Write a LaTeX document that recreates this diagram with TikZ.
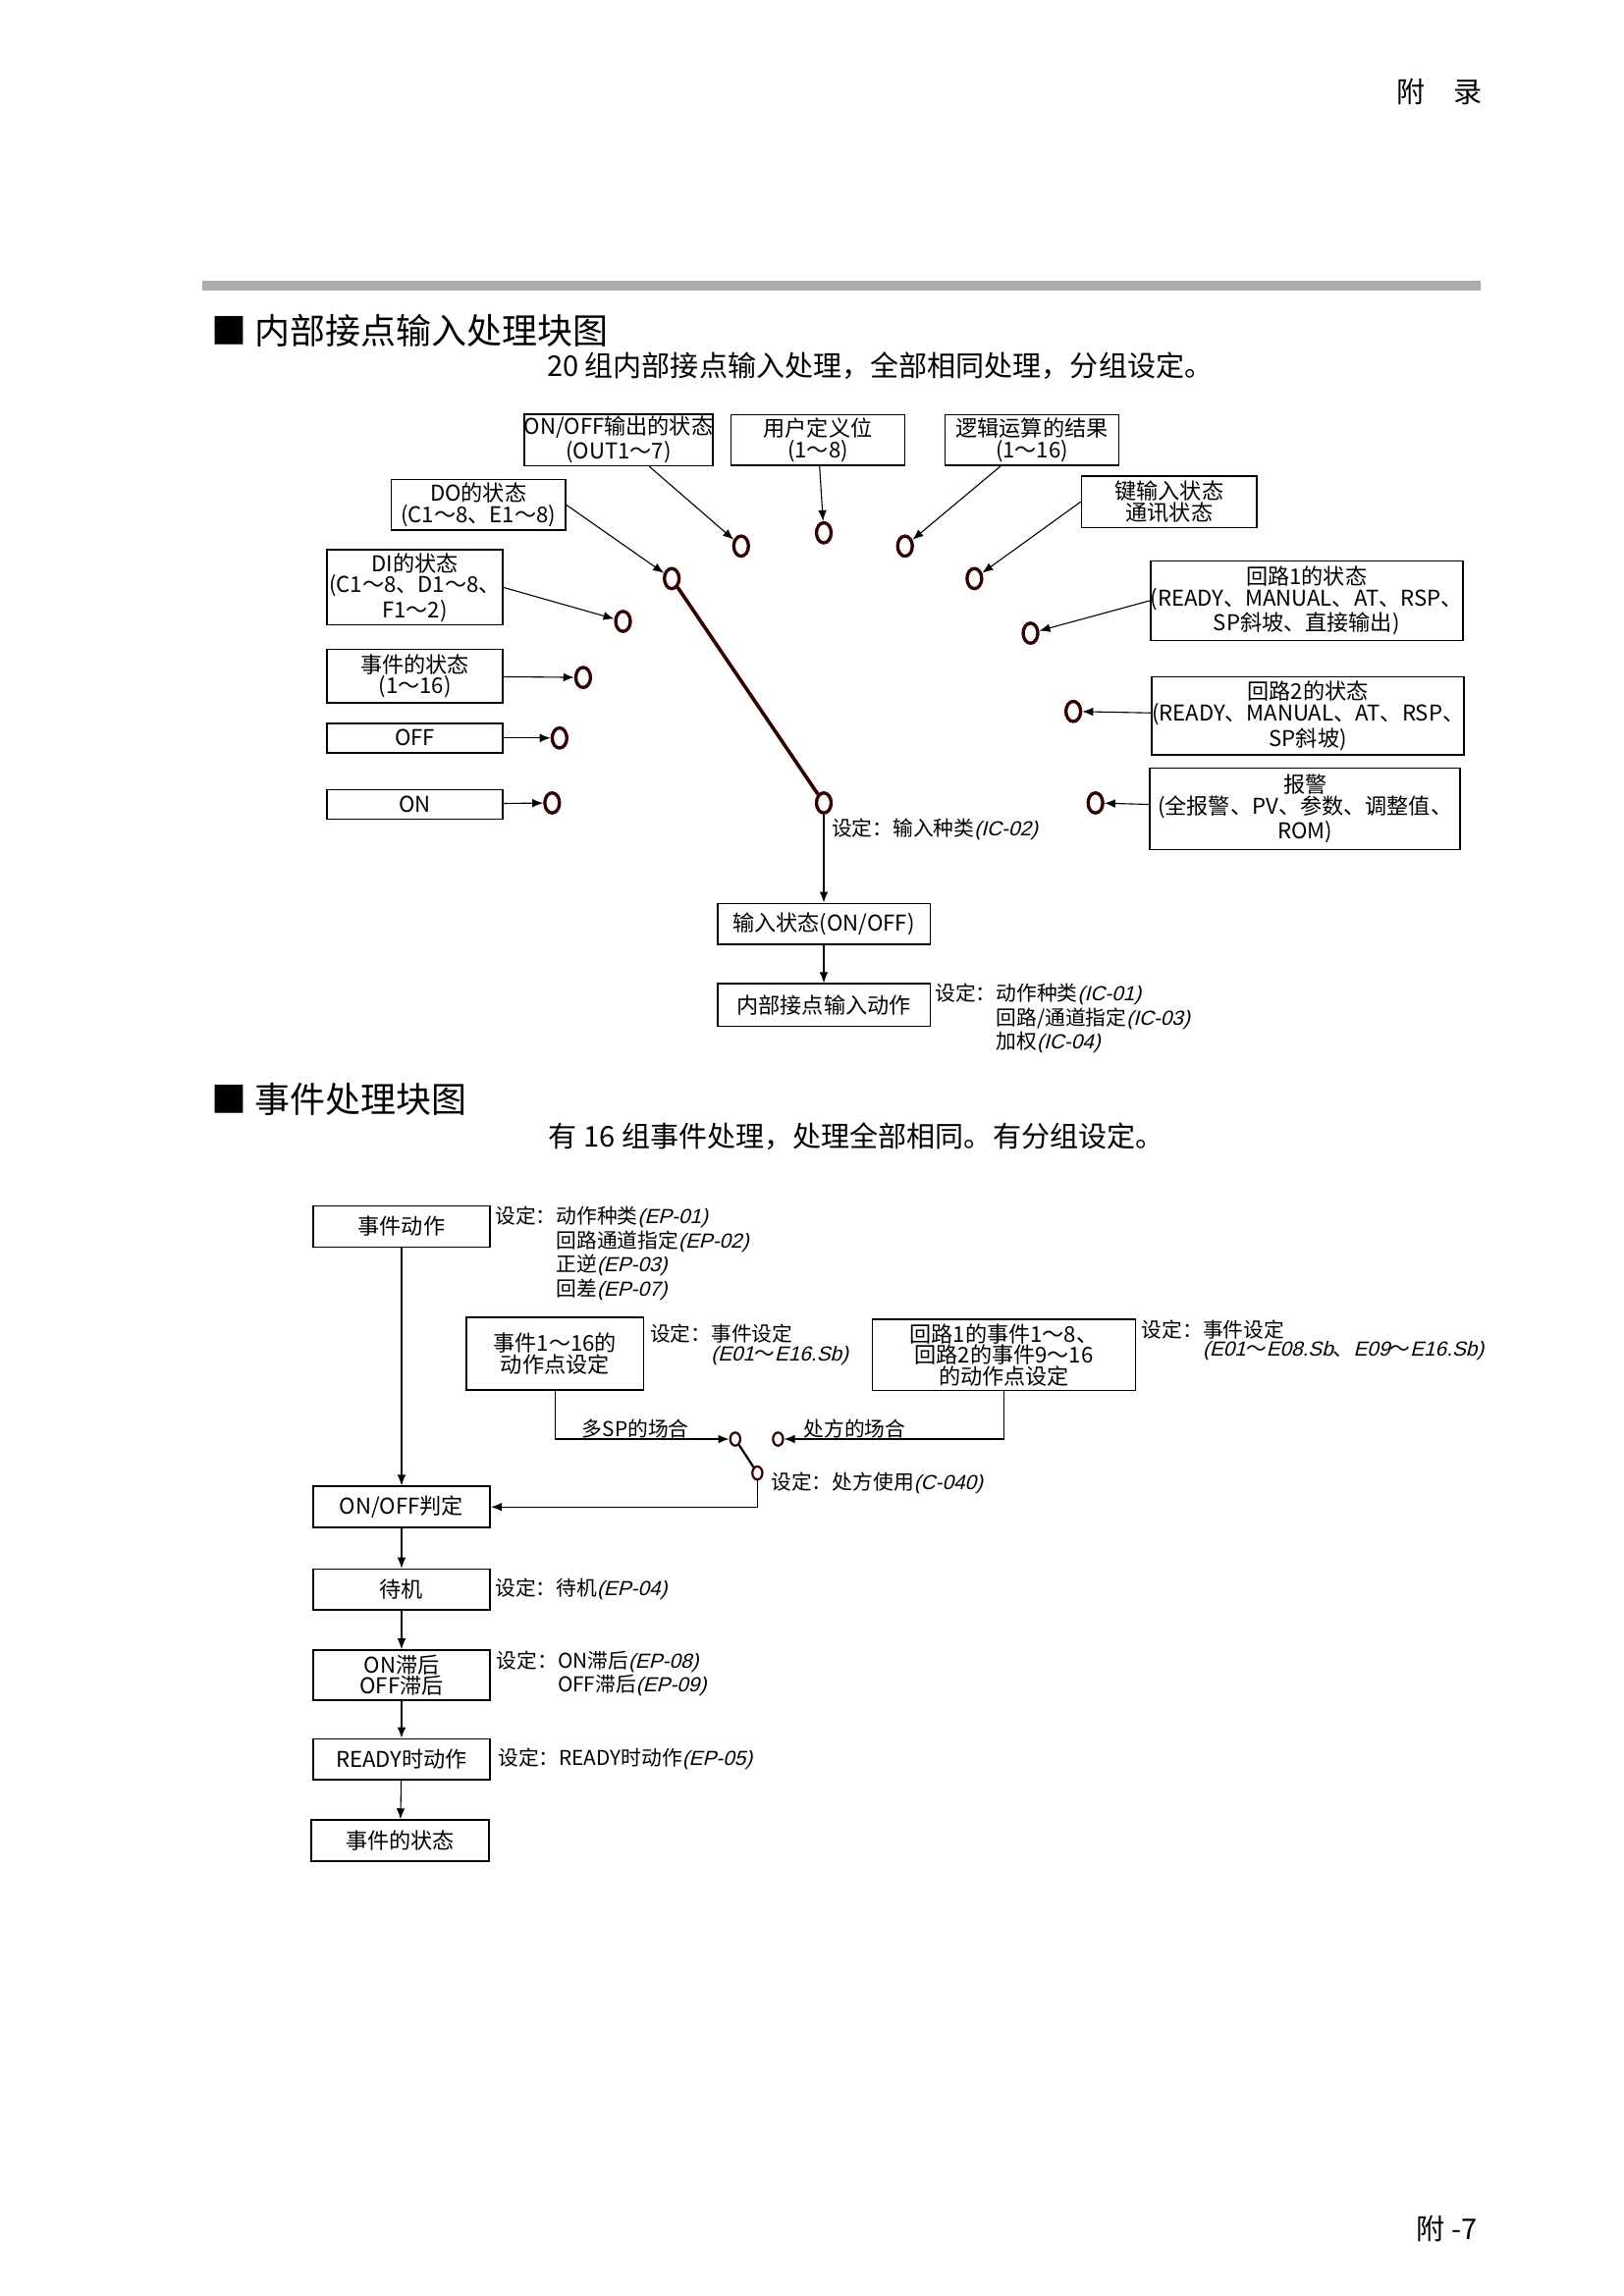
\documentclass[tikz,border=0pt]{standalone}
\usepackage{fontspec}
\setmainfont{Noto Sans CJK SC}
\newfontfamily\codefont[FakeSlant=0.25]{Liberation Sans}
\usetikzlibrary{shapes.geometric, arrows.meta, positioning}
\newcommand{\cd}[1]{{\codefont #1}}

\begin{document}
\begin{tikzpicture}[
  x=0.01909cm, y=-0.01909cm,
  every node/.style={font=\fontsize{8}{7.8}\selectfont},
  blk/.style={rectangle, draw, line width=0.6pt, align=center, inner sep=0pt,
    minimum width=2.27cm, minimum height=0.53cm},
  pinc/.style={ellipse, draw=black!80!red, line width=1.2pt, inner sep=0pt,
    minimum width=0.19cm, minimum height=0.26cm},
  minc/.style={ellipse, draw=black!80!red, line width=0.8pt, inner sep=0pt,
    minimum width=0.13cm, minimum height=0.17cm},
  setn/.style={anchor=north west, align=left, inner sep=0pt,
    font=\fontsize{7.5}{7}\selectfont},
  >={Latex[length=1.4mm,width=1.1mm]}
]
\useasboundingbox (0,0) rectangle (1100,1555.6);

% Page decoration
\node[font=\fontsize{10.5}{12}\selectfont] (pghead) at (975,62) {附　录};
\fill[gray!65] (137,190) rectangle (1003,197);
\node[anchor=west, font=\fontsize{13}{15}\selectfont] (title1) at (137,224) {■\ 内部接点输入处理块图};
\node[font=\fontsize{10.5}{12}\selectfont] (sub1) at (596,248) {20 组内部接点输入处理，全部相同处理，分组设定。};

% Sources
\node[blk, minimum width=2.25cm, minimum height=0.67cm] (outst) at (419,298) {ON/OFF输出的状态\\(OUT1～7)};
\node[blk, minimum width=2.25cm, minimum height=0.65cm] (userbit) at (554,298) {用户定义位\\(1～8)};
\node[blk, minimum width=2.25cm, minimum height=0.65cm] (logic) at (699,298) {逻辑运算的结果\\(1～16)};
\node[blk, minimum width=2.25cm, minimum height=0.65cm] (dost) at (324,342) {DO的状态\\(C1～8、E1～8)};
\node[blk, minimum height=0.67cm] (keyst) at (792,340) {键输入状态\\通讯状态};
\node[blk, minimum height=0.97cm] (dist) at (281,398) {DI的状态\\(C1～8、D1～8、\\F1～2)};
\node[blk, minimum height=0.69cm] (evst) at (281,458) {事件的状态\\(1～16)};
\node[blk, minimum height=0.38cm] (offsrc) at (281,500) {OFF};
\node[blk, minimum height=0.38cm] (onsrc) at (281,545) {ON};
\node[blk, minimum width=4.03cm, minimum height=1.03cm] (loop1) at (885,407) {回路1的状态\\(READY、MANUAL、AT、RSP、\\SP斜坡、直接输出)};
\node[blk, minimum width=4.03cm, minimum height=1.01cm] (loop2) at (886,485) {回路2的状态\\(READY、MANUAL、AT、RSP、\\SP斜坡)};
\node[blk, minimum width=4.01cm, minimum height=1.05cm] (alarm) at (884,548) {报警\\(全报警、PV、参数、调整值、\\ROM)};

% Contacts
\node[pinc] (cout) at (502,370) {};
\node[pinc] (cuser) at (558,361) {};
\node[pinc] (clogic) at (613,370) {};
\node[pinc] (ckey) at (660,392) {};
\node[pinc] (cdo) at (455,392) {};
\node[pinc] (cdi) at (422,421) {};
\node[pinc] (cev) at (395,459) {};
\node[pinc] (coff) at (379,500) {};
\node[pinc] (con) at (374,544) {};
\node[pinc] (cl1) at (698,429) {};
\node[pinc] (cl2) at (727,482) {};
\node[pinc] (cal) at (742,544) {};
\node[pinc] (ccom) at (558,544) {};

\draw[->] (outst) -- (cout);
\draw[->] (userbit) -- (cuser);
\draw[->] (logic) -- (clogic);
\draw[->] (keyst.west) -- (ckey);
\draw[->] (dost.east) -- (cdo);
\draw[->] (dist.east) -- (cdi);
\draw[->] (evst) -- (cev);
\draw[->] (offsrc) -- (coff);
\draw[->] (onsrc) -- (con);
\draw[->] (loop1.west) -- (cl1);
\draw[->] (loop2) -- (cl2);
\draw[->] (alarm) -- (cal);
\draw[line width=1.3pt, black!80!red] (cdo) -- (ccom);

\node[setn] (set1) at (563,554) {设定：输入种类\cd{(IC-02)}};

\node[blk, minimum width=2.75cm] (instate) at (558,626) {输入状态(ON/OFF)};
\node[blk, minimum width=2.75cm, minimum height=0.55cm] (inact) at (558,681) {内部接点输入动作};
\draw[->] (ccom) -- (instate);
\draw[->] (instate) -- (inact);
\node[setn] (set2) at (633,666) {设定：动作种类\cd{(IC-01)}\\\hphantom{设定：}回路/通道指定\cd{(IC-03)}\\\hphantom{设定：}加权\cd{(IC-04)}};

% Event section
\node[anchor=west, font=\fontsize{13}{15}\selectfont] (title2) at (137,745) {■\ 事件处理块图};
\node[font=\fontsize{10.5}{12}\selectfont] (sub2) at (580,770) {有 16 组事件处理，处理全部相同。有分组设定。};

\node[blk, minimum width=2.29cm] (evact) at (272,831) {事件动作};
\node[setn] (set3) at (335,817) {设定：动作种类\cd{(EP-01)}\\\hphantom{设定：}回路通道指定\cd{(EP-02)}\\\hphantom{设定：}正逆\cd{(EP-03)}\\\hphantom{设定：}回差\cd{(EP-07)}};

\node[blk, minimum width=2.29cm, minimum height=0.94cm] (pt1) at (376,917) {事件1～16的\\动作点设定};
\node[setn] (set4) at (440,897) {设定：事件设定\\\hphantom{设定：}\cd{(E01}～\cd{E16.Sb)}};
\node[blk, minimum width=3.40cm, minimum height=0.92cm] (pt2) at (680,918) {回路1的事件1～8、\\回路2的事件9～16\\的动作点设定};
\node[setn] (set5) at (773,894) {设定：事件设定\\\hphantom{设定：}\cd{(E01}～\cd{E08.Sb}、\cd{E09}～\cd{E16.Sb)}};

\node[minc] (swa) at (498,975) {};
\node[minc] (swb) at (527,975) {};
\node[minc] (swc) at (513,998) {};
\draw[line width=0.8pt] (swa) -- (swc);
\draw[->] (pt1.south) |- (swa);
\draw[->] (pt2.south) |- (swb);
\node[setn] (lbmulti) at (394,961) {多SP的场合};
\node[setn] (lbrec) at (544,961) {处方的场合};
\node[setn] (set6) at (522,997) {设定：处方使用\cd{(C-040)}};

\node[blk, minimum width=2.29cm] (judge) at (272,1021) {ON/OFF判定};
\node[blk, minimum width=2.29cm] (stby) at (272,1077) {待机};
\node[blk, minimum width=2.29cm, minimum height=0.65cm] (hyst) at (272,1135) {ON滞后\\OFF滞后};
\node[blk, minimum width=2.29cm] (rdy) at (272,1192) {READY时动作};
\node[blk, minimum width=2.29cm] (evout) at (271,1247) {事件的状态};

\draw[->] (evact) -- (judge);
\draw[->] (swc) |- (judge.east);
\draw[->] (judge) -- (stby);
\draw[->] (stby) -- (hyst);
\draw[->] (hyst) -- (rdy);
\draw[->] (rdy) -- (evout);

\node[setn] (set7) at (335,1069) {设定：待机\cd{(EP-04)}};
\node[setn] (set8) at (336,1118) {设定：ON滞后\cd{(EP-08)}\\\hphantom{设定：}OFF滞后\cd{(EP-09)}};
\node[setn] (set9) at (337,1184) {设定：READY时动作\cd{(EP-05)}};

\node[font=\fontsize{10.5}{12}\selectfont] (pgfoot) at (980,1510) {附 -7};
\end{tikzpicture}
\end{document}
